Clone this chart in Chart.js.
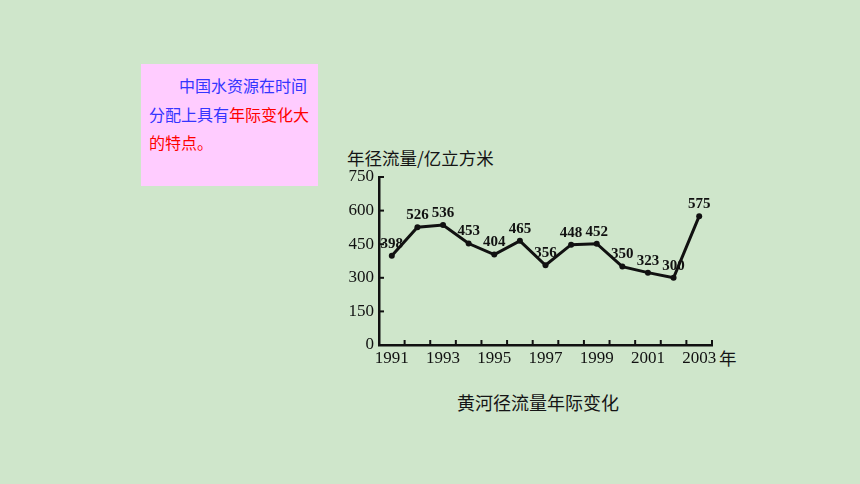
<!DOCTYPE html>
<html>
<head>
<meta charset="utf-8">
<script src="https://cdn.jsdelivr.net/npm/chart.js@4"></script>
<style>
  html, body { margin: 0; padding: 0; }
  body { width: 860px; height: 484px; background: #cfe6cb; position: relative; overflow: hidden; }
  .note {
    position: absolute; left: 141px; top: 64px; width: 177px; height: 122px;
    background: #ffccff; font-family: "Noto Sans CJK SC", sans-serif; font-size: 16px;
    line-height: 28.5px; padding: 7px 0 0 8px; box-sizing: border-box; color: #3535ff;
  }
  .note .red { color: #ff0000; }
  .txt { position: absolute; font-family: "Noto Sans CJK SC", sans-serif; color: #151515; white-space: nowrap; }
  #wrap { position: absolute; left: 330px; top: 160px; width: 420px; height: 220px; }
</style>
</head>
<body>
<div class="note"><span style="padding-left:30px">中国水资源在时间</span><br>分配上具有<span class="red">年际变化大</span><br><span class="red">的特点。</span></div>
<div class="txt" style="left:347px; top:145px; font-size:17.5px;">年径流量/亿立方米</div>
<div class="txt" style="left:719px; top:345px; font-size:17.5px;">年</div>
<div class="txt" style="left:457px; top:389px; font-size:18px;">黄河径流量年际变化</div>
<div id="wrap"><canvas id="runoff-chart"></canvas></div>
<script>
const years = ['1991', '1992', '1993', '1994', '1995', '1996', '1997', '1998', '1999', '2000', '2001', '2002', '2003'];
const runoff = [398, 526, 536, 453, 404, 465, 356, 448, 452, 350, 323, 300, 575];
const yTicks = [0, 150, 300, 450, 600, 750];

// inward tick marks + value labels
const markPlugin = {
  id: 'marks',
  afterDatasetsDraw(chart) {
    const { ctx, chartArea } = chart;
    const x = chart.scales.x;
    const y = chart.scales.y;
    ctx.save();
    ctx.strokeStyle = '#111';
    ctx.lineWidth = 2;
    const half = (x.getPixelForValue(1) - x.getPixelForValue(0)) / 2;
    years.forEach((yr, i) => {
      const px = x.getPixelForValue(i) + half;
      ctx.beginPath();
      ctx.moveTo(px, chartArea.bottom);
      ctx.lineTo(px, chartArea.bottom - 5);
      ctx.stroke();
    });
    yTicks.slice(1).forEach(v => {
      const py = y.getPixelForValue(v);
      ctx.beginPath();
      ctx.moveTo(chartArea.left, py);
      ctx.lineTo(chartArea.left + 5, py);
      ctx.stroke();
    });

    ctx.fillStyle = '#111';
    ctx.font = 'bold 15px "Liberation Serif", serif';
    ctx.textAlign = 'center';
    ctx.textBaseline = 'middle';
    const meta = chart.getDatasetMeta(0);
    meta.data.forEach((pt, i) => {
      ctx.fillText(String(runoff[i]), pt.x, pt.y - 12);
    });
    ctx.restore();
  }
};

new Chart(document.getElementById('runoff-chart'), {
  type: 'line',
  data: {
    labels: years,
    datasets: [{
      data: runoff,
      borderColor: '#111',
      borderWidth: 3,
      backgroundColor: '#111',
      pointRadius: 3,
      pointBorderWidth: 0,
      tension: 0,
    }]
  },
  options: {
    responsive: true,
    maintainAspectRatio: false,
    animation: false,
    layout: { padding: { top: 17, right: 38, left: 0, bottom: 0 } },
    scales: {
      x: {
        offset: true,
        afterFit: s => { s.height = 35; },
        grid: { display: false, drawTicks: false },
        border: { display: true, color: '#111', width: 2.5 },
        ticks: {
          autoSkip: false,
          maxRotation: 0,
          padding: 3,
          color: '#111',
          font: { size: 17, family: '"Liberation Serif", serif' },
          callback: (v, i) => (i % 2 === 0 ? years[i] : '')
        }
      },
      y: {
        min: 0,
        max: 750,
        afterFit: s => { s.width = 49; },
        afterBuildTicks: s => { s.ticks = yTicks.map(v => ({ value: v })); },
        grid: { display: false, drawTicks: false },
        border: { display: true, color: '#111', width: 2.5 },
        ticks: {
          padding: 5,
          color: '#111',
          font: { size: 17, family: '"Liberation Serif", serif' }
        }
      }
    },
    plugins: {
      legend: { display: false },
      tooltip: { enabled: false }
    }
  },
  plugins: [markPlugin]
});
</script>
</body>
</html>
